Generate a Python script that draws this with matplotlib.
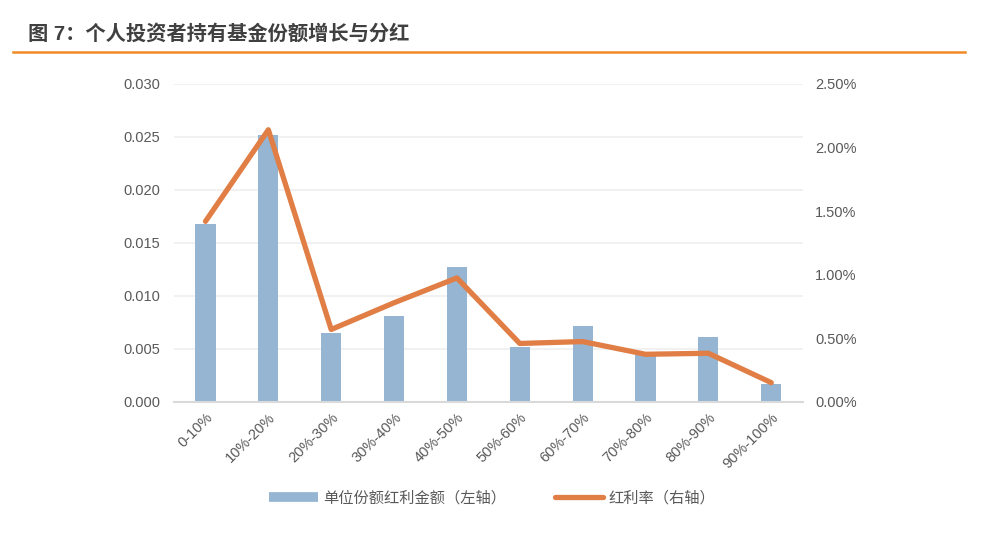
import matplotlib.pyplot as plt
from matplotlib.lines import Line2D
from matplotlib.ticker import FuncFormatter
import numpy as np

plt.rcParams['font.family'] = ['Liberation Sans', 'Noto Sans CJK SC']

# 数据
categories = ["0-10%", "10%-20%", "20%-30%", "30%-40%", "40%-50%",
              "50%-60%", "60%-70%", "70%-80%", "80%-90%", "90%-100%"]
dividend_per_share = [0.0168, 0.0252, 0.0065, 0.0081, 0.0127,
                      0.0052, 0.0072, 0.0044, 0.0061, 0.0017]
dividend_rate = [1.42, 2.14, 0.57, 0.78, 0.975,
                 0.46, 0.475, 0.375, 0.383, 0.152]  # 单位 %

bar_color = "#95B5D3"
line_color = "#E07E45"
text_color = "#595959"

fig = plt.figure(figsize=(9.9, 5.56), dpi=100)
ax = fig.add_axes([0.1758, 0.277, 0.635, 0.572])
x = np.arange(len(categories))

ax.bar(x, dividend_per_share, width=0.32, color=bar_color, zorder=2)
ax.set_xlim(-0.5, len(categories) - 0.5)
ax.set_ylim(0, 0.030)
ax.set_yticks(np.arange(0, 0.0301, 0.005))
ax.yaxis.set_major_formatter(FuncFormatter(lambda v, p: f"{v:.3f}"))
ax.grid(axis="y", color="#EFEFEF", linewidth=1.2, zorder=0)
ax.set_xticks(x)
ax.set_xticklabels(categories, rotation=45, ha="right", rotation_mode="anchor")
for s in ["top", "right", "left"]:
    ax.spines[s].set_visible(False)
ax.spines["bottom"].set_color("#D9D9D9")
ax.spines["bottom"].set_linewidth(1.5)
ax.tick_params(axis="both", length=0, colors=text_color, labelsize=10.5)
ax.tick_params(axis="y", pad=10)
ax.tick_params(axis="x", pad=6)

ax2 = ax.twinx()
ax2.plot(x, dividend_rate, color=line_color, linewidth=3.8, zorder=3,
         solid_capstyle="round")
ax2.set_ylim(0, 2.5)
ax2.set_yticks(np.arange(0, 2.51, 0.5))
ax2.yaxis.set_major_formatter(FuncFormatter(lambda v, p: f"{v:.2f}%"))
for s in ax2.spines.values():
    s.set_visible(False)
ax2.tick_params(axis="y", length=0, colors=text_color, labelsize=10.5, pad=9)

# 标题
fig.text(0.028, 0.94, "图 7：个人投资者持有基金份额增长与分红", fontsize=14.6,
         fontweight="bold", color="#404040", va="center")
fig.add_artist(Line2D([0.013, 0.975], [0.906, 0.906], color="#F08A24",
                      linewidth=1.8, transform=fig.transFigure))

# 图例
handles = [Line2D([0], [0], color=bar_color, linewidth=7, solid_capstyle="butt"),
           Line2D([0], [0], color=line_color, linewidth=3.8, solid_capstyle="round")]
fig.legend(handles, ["单位份额红利金额（左轴）", "红利率（右轴）"],
           loc="center", bbox_to_anchor=(0.497, 0.104), ncol=2, frameon=False,
           handlelength=3.2, columnspacing=3.2, handletextpad=0.3,
           fontsize=11, labelcolor=text_color)

fig.savefig("out.png", dpi=100)
